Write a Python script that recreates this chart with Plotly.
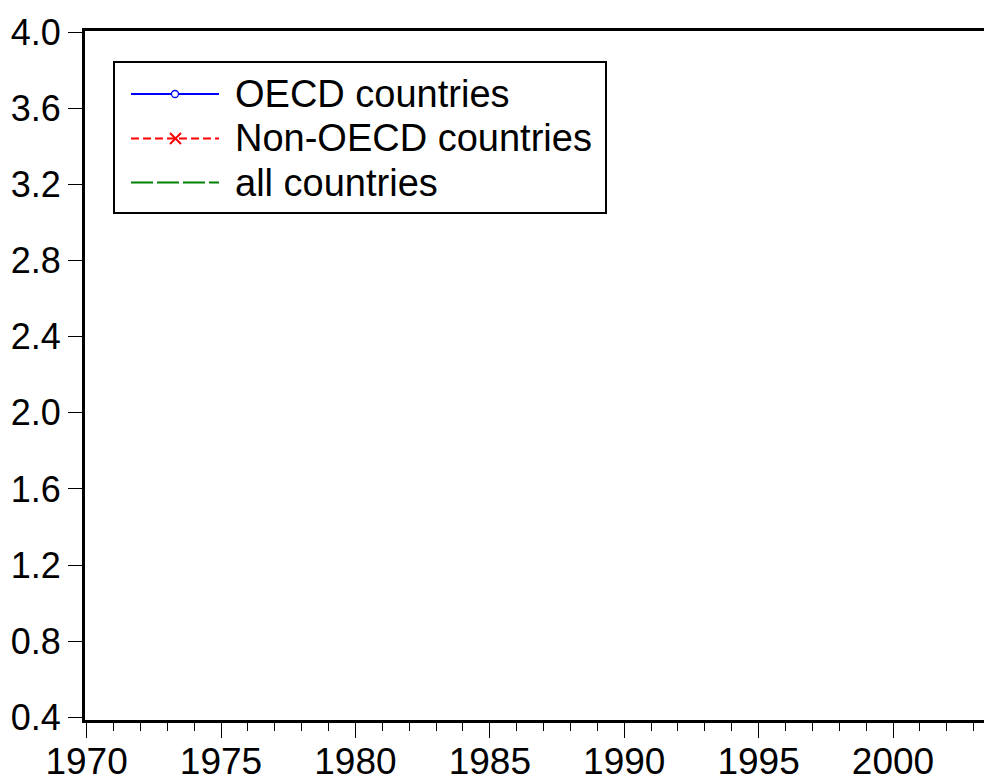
import plotly.graph_objects as go

# No data line is visible anywhere inside the reference frame, so the series are empty.
years = []
oecd = []
non_oecd = []
all_countries = []

series_names = ["OECD countries", "Non-OECD countries", "all countries"]
y_ticks = [0.4, 0.8, 1.2, 1.6, 2.0, 2.4, 2.8, 3.2, 3.6, 4.0]
x_ticks = [1970, 1975, 1980, 1985, 1990, 1995, 2000, 2005]

# the page body has an 8px margin, so the figure is shifted; all pixel
# positions below are page positions, converted with OFF
OFF = 8
W, H = 992, 782 - OFF
L, R, T, B = 85 - OFF, 0, 31 - OFF, 62
PX_PER_YEAR = 26.88
X0 = 1969.94
FONT = "Liberation Sans, Arial, sans-serif"


def px_x(p):
    return (p - OFF - L) / (W - L - R)


def px_y(p):
    return (H - B - (p - OFF)) / (H - T - B)


fig = go.Figure()
fig.add_trace(go.Scatter(x=years, y=oecd, name=series_names[0], mode="lines+markers",
                         line=dict(color="#0000ff", width=1.5),
                         marker=dict(symbol="circle-open", color="#0000ff", size=7),
                         showlegend=False))
fig.add_trace(go.Scatter(x=years, y=non_oecd, name=series_names[1], mode="lines+markers",
                         line=dict(color="#ff0000", width=1.5, dash="8px,4px"),
                         marker=dict(symbol="x-thin-open", color="#ff0000", size=10),
                         showlegend=False))
fig.add_trace(go.Scatter(x=years, y=all_countries, name=series_names[2], mode="lines",
                         line=dict(color="#008000", width=2, dash="22px,4px"),
                         showlegend=False))

# hand-drawn legend box (EViews style, long swatches)
shapes = [dict(type="rect", xref="paper", yref="paper",
               x0=px_x(114), x1=px_x(606), y0=px_y(62), y1=px_y(213),
               line=dict(color="black", width=2), fillcolor="white", layer="above")]
rows = [94, 138.5, 182.5]
styles = [("#0000ff", 1.8, "solid"), ("#ff0000", 1.8, "8px,4px"), ("#008000", 2.2, "22px,4px")]
for yy, (col, w, dash) in zip(rows, styles):
    shapes.append(dict(type="line", xref="paper", yref="paper",
                       x0=px_x(131), x1=px_x(219), y0=px_y(yy), y1=px_y(yy),
                       line=dict(color=col, width=w, dash=dash), layer="above"))
# open circle marker
shapes.append(dict(type="circle", xref="paper", yref="paper",
                   x0=px_x(171.5), x1=px_x(178.5), y0=px_y(90.5), y1=px_y(97.5),
                   line=dict(color="#0000ff", width=1.3), fillcolor="white", layer="above"))
# x marker
for (a, b) in [((170, 133), (181, 144)), ((170, 144), (181, 133))]:
    shapes.append(dict(type="line", xref="paper", yref="paper",
                       x0=px_x(a[0]), y0=px_y(a[1]), x1=px_x(b[0]), y1=px_y(b[1]),
                       line=dict(color="#ff0000", width=2), layer="above"))

annotations = [dict(xref="paper", yref="paper", x=px_x(233), y=px_y(yy), text=name,
                    showarrow=False, xanchor="left", yanchor="middle",
                    font=dict(family=FONT, size=38, color="black"))
               for yy, name in zip(rows, series_names)]

fig.update_layout(
    width=W, height=H,
    margin=dict(l=L, r=R, t=T, b=B, pad=0, autoexpand=False),
    plot_bgcolor="white", paper_bgcolor="white",
    font=dict(family=FONT, size=35, color="black"),
    shapes=shapes, annotations=annotations,
    showlegend=False,
)
fig.update_xaxes(
    range=[X0, X0 + (W - L - R) / PX_PER_YEAR],
    tickvals=x_ticks, ticks="outside", ticklen=15, tickwidth=1.3, tickcolor="black",
    minor=dict(dtick=1, tick0=1970, ticks="outside", ticklen=8, tickwidth=1.3, tickcolor="black"),
    showline=True, linewidth=3, linecolor="black", mirror=True,
    showgrid=False, zeroline=False, automargin=False, ticklabelstandoff=-8,
    tickfont=dict(family=FONT, size=37, color="black"),
)
fig.update_yaxes(
    range=[0.3858, 4.0068],
    tickvals=y_ticks, tickformat=".1f", ticks="outside", ticklen=14, tickwidth=1.3, tickcolor="black",
    showline=True, linewidth=3, linecolor="black", mirror=False,
    showgrid=False, zeroline=False, automargin=False,
    tickfont=dict(family=FONT, size=36, color="black"),
)

fig.write_html("out.html")
